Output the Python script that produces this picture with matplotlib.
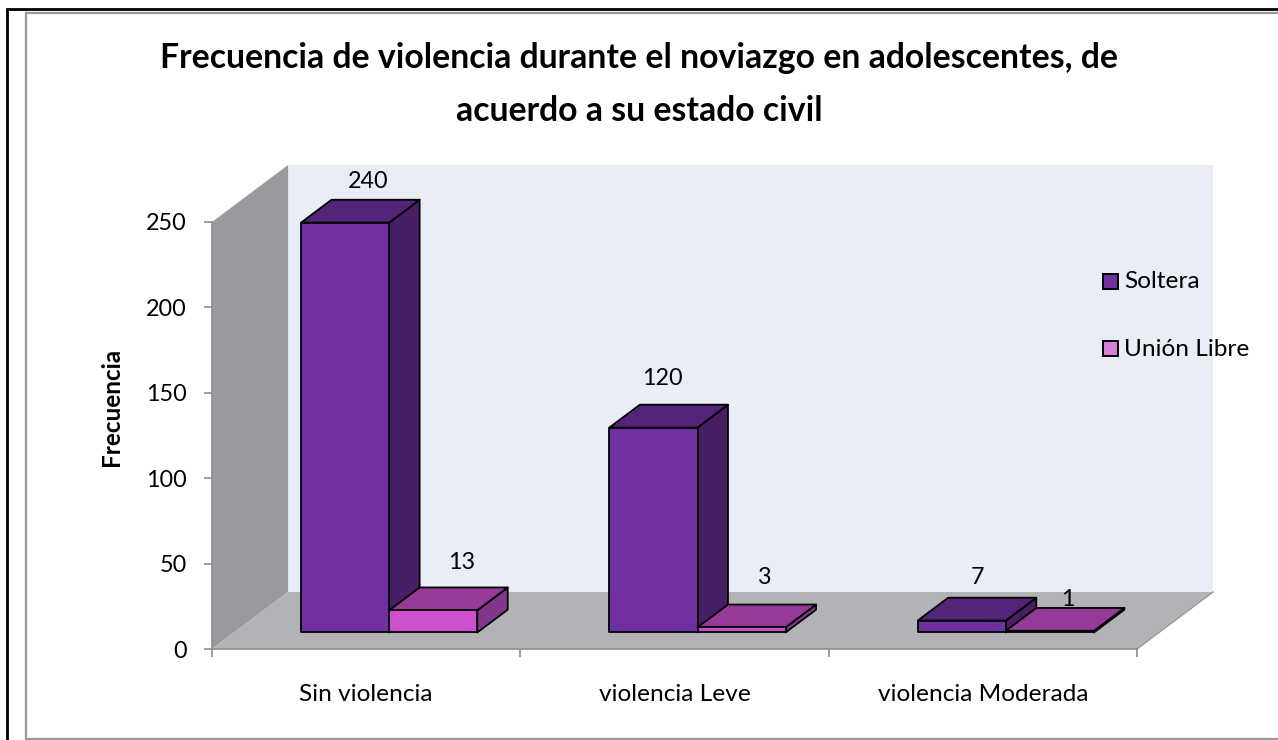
import matplotlib
matplotlib.use("Agg")
import matplotlib.pyplot as plt
from matplotlib.patches import Polygon, Rectangle

categories = ["Sin violencia", "violencia Leve", "violencia Moderada"]
series_names = ["Soltera", "Unión Libre"]
soltera = [240, 120, 7]
union_libre = [13, 3, 1]
y_ticks = [0, 50, 100, 150, 200, 250]

W, H = 1278, 740
TXT = 17.6
NUM = 16.8
plt.rcParams["font.family"] = ["Lato", "DejaVu Sans"]
fig = plt.figure(figsize=(W / 100, H / 100), dpi=100)

# page frames (open on the right, as in the source page)
bg = fig.add_axes([0, 0, 1, 1], zorder=0)
bg.set_xlim(0, W); bg.set_ylim(H, 0); bg.axis("off")
bg.plot([7, 7, W], [H, 9, 9], color="black", lw=2.0, solid_joinstyle="miter")
bg.plot([W, 26, 26, W], [12.5, 12.5, 739, 739], color="#9a9a9a", lw=1.6, solid_joinstyle="miter")

# plot axes: front edge of the 3D box
L, R, T, B = 212, 1137, 222, 649
ax = fig.add_axes([L / W, 1 - B / H, (R - L) / W, (B - T) / H], zorder=1)
ax.set_xlim(0, 3); ax.set_ylim(0, 250)
ax.patch.set_visible(False)
for s in ("top", "right"):
    ax.spines[s].set_visible(False)
for s in ("left", "bottom"):
    ax.spines[s].set_color("#8c8c8c"); ax.spines[s].set_linewidth(1.2)
    ax.spines[s].set_zorder(1.5)
ax.set_yticks(y_ticks)
ax.set_xticks([0, 1, 2, 3], minor=False)
ax.set_xticklabels([])
ax.set_xticks([0.5, 1.5, 2.5], minor=True)
ax.set_xticklabels(categories, minor=True, fontsize=TXT)
ax.tick_params(axis="x", which="minor", length=0, pad=25)
ax.tick_params(axis="x", which="major", length=6, width=1.2, color="#8c8c8c", top=False)
ax.tick_params(axis="y", length=6, width=1.2, color="#8c8c8c", labelsize=NUM, pad=12)
ax.set_ylabel("Frecuencia", fontsize=17.5, fontweight="bold")
ax.yaxis.set_label_coords(-0.096, 0.567)

DX = 76 / 308          # depth shear, category units per unit depth
DY = 57 / (427 / 250)  # depth shear, value units per unit depth


def P(x, y, z):
    return (x + z * DX, y + z * DY)


def poly(pts, fc, ec="none", lw=0, z=1):
    ax.add_patch(Polygon(pts, closed=True, fc=fc, ec=ec, lw=lw, zorder=z,
                         clip_on=False, joinstyle="round"))


# walls and floor
poly([P(0, 0, 1), P(3, 0, 1), P(3, 250, 1), P(0, 250, 1)], "#E9EDF6", z=1)
poly([P(0, 0, 0), P(0, 0, 1), P(0, 250, 1), P(0, 250, 0)], "#989A9E", z=1.1)
poly([P(0, 0, 0), P(3, 0, 0), P(3, 0, 1), P(0, 0, 1)], "#B1B3B6", z=1.2)
ax.plot(*zip(P(3, 0, 0), P(3, 0, 1)), color="#9a9a9a", lw=1, clip_on=False, zorder=1.3)

BAR = 88 / 308
Z0, Z1 = 0.29, 0.69
X0 = 89 / 308 - Z0 * DX
LINE = {"ec": "black", "lw": 1.3}


def bar3d(x0, v, front, side, top, z):
    x1 = x0 + BAR
    poly([P(x1, 0, Z0), P(x1, 0, Z1), P(x1, v, Z1), P(x1, v, Z0)], side, z=z, **LINE)
    poly([P(x0, v, Z0), P(x1, v, Z0), P(x1, v, Z1), P(x0, v, Z1)], top, z=z + .01, **LINE)
    poly([P(x0, 0, Z0), P(x1, 0, Z0), P(x1, v, Z0), P(x0, v, Z0)], front, z=z + .02, **LINE)


offs_a = [(-7, 18), (-21, 26), (-15, 20)]
offs_b = [(-2, 25), (-7, 27), (-12, 8)]
for i, (a, b) in enumerate(zip(soltera, union_libre)):
    xa = i + X0
    xb = xa + BAR
    bar3d(xa, a, "#7030A0", "#461F65", "#53247A", 2.0 + i)
    bar3d(xb, b, "#CC4FCC", "#83378A", "#953A96", 2.5 + i)
    for x, v, o in ((xa, a, offs_a[i]), (xb, b, offs_b[i])):
        ax.annotate(str(v), P(x + BAR / 2, v, Z1), xytext=(o[0] * .72, o[1] * .72),
                    textcoords="offset points", ha="center", va="center",
                    fontsize=NUM, annotation_clip=False, zorder=20)

# legend
leg_y = [282, 349]
leg_c = ["#7030A0", "#D87FD8"]
ov = fig.add_axes([0, 0, 1, 1], zorder=5)
ov.set_xlim(0, W); ov.set_ylim(H, 0); ov.axis("off")
for name, yy, c in zip(series_names, leg_y, leg_c):
    ov.add_patch(Rectangle((1103, yy - 8), 15, 15, fc=c, ec="black", lw=1.4))
    ov.text(1124, yy, name, fontsize=TXT, va="center", ha="left")

fig.text(639.5 / W, 1 - 84.5 / H,
         "Frecuencia de violencia durante el noviazgo en adolescentes, de\nacuerdo a su estado civil",
         ha="center", va="center", fontsize=24.3, fontweight="bold", linespacing=1.8)

fig.savefig("out.png", dpi=100)
